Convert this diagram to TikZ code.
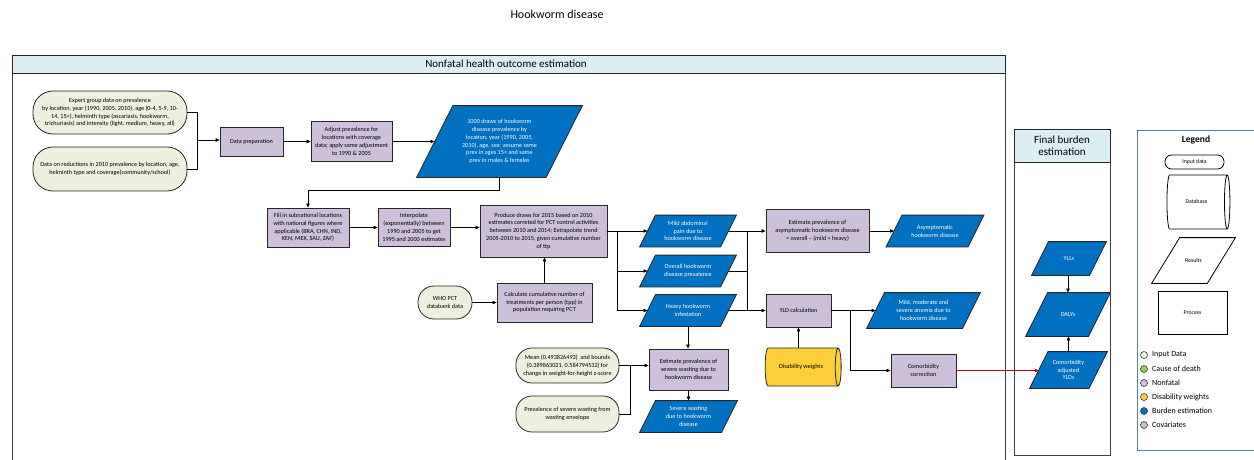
\documentclass[tikz,border=0pt]{standalone}
\usepackage{fontspec}
\setmainfont{Carlito}
\usetikzlibrary{shapes.geometric,shapes.misc,arrows.meta,calc}

\definecolor{inputfill}{HTML}{EBF1DE}
\definecolor{procfill}{HTML}{CCC0DA}
\definecolor{resfill}{HTML}{0070C0}
\definecolor{dwfill}{HTML}{FFCF3A}
\definecolor{headfill}{HTML}{DAEEF3}
\definecolor{legborder}{HTML}{5B7FA6}
\definecolor{codgreen}{HTML}{92D050}
\definecolor{covgray}{HTML}{BFBFBF}
\definecolor{linkred}{HTML}{C00000}

\pgfdeclarelayer{background}
\pgfsetlayers{background,main}

% Parallelogram node: a rectangle as wide as the shape at mid-height carries the
% name and text; the slanted outline is drawn behind it.
% #1 node style, #2 outline style, #3 half-slant per unit height, #4 name,
% #5 centre, #6 total width, #7 height, #8 text
\newcommand\paranode[8]{%
  \node[#1, minimum width={(#6)-2*#3*(#7)}, minimum height=#7] (#4) at (#5) {#8};
  \begin{pgfonlayer}{background}
    \draw[#2] ([xshift={-#3*(#7)}]#4.south west) -- ([xshift={#3*(#7)}]#4.north west)
      -- ([xshift={#3*(#7)}]#4.north east) -- ([xshift={-#3*(#7)}]#4.south east) -- cycle;
  \end{pgfonlayer}}
\newcommand\resnode[5]{\paranode{resultbox}{resshape}{0.255}{#1}{#2}{#3}{#4}{#5}}

\begin{document}
\begin{tikzpicture}[x=1pt,y=-1pt,
  base/.style={font=\fontsize{6.2}{7.8}\selectfont, align=center, inner sep=1pt,
    line width=0.8pt, draw=black!85},
  inputbox/.style={base, rectangle, rounded corners=#1, fill=inputfill},
  procbox/.style={base, rectangle, fill=procfill},
  resultbox/.style={base, rectangle, draw=none, text=white},
  resshape/.style={line width=0.8pt, draw=black!85, fill=resfill},
  dbbox/.style={base, cylinder, aspect=0.8, fill=dwfill},
  arr/.style={-{Triangle[length=4pt,width=3.4pt]}, line width=0.7pt},
  plain/.style={line width=0.7pt},
  redarr/.style={arr, draw=linkred},
  lanehead/.style={font=\fontsize{11}{12.5}\selectfont, align=center},
  legtext/.style={font=\fontsize{8}{9}\selectfont, anchor=west, inner sep=0pt},
  legdot/.style={circle, draw=black!75, line width=0.6pt, minimum size=7pt, inner sep=0pt},
  legshape/.style={draw=black, line width=0.8pt, fill=white, font=\fontsize{5.8}{7}\selectfont, inner sep=1pt},
  legpara/.style={legshape, rectangle, draw=none, fill=none},
  legparashape/.style={draw=black, line width=0.8pt, fill=white}
]
\useasboundingbox (0,0) rectangle (1254,459);

% title
\node[font=\fontsize{12}{14}\selectfont] (title) at (557,14) {Hookworm disease};

% ---------- nonfatal swimlane ----------
\draw[line width=0.8pt, draw=black!75] (12,55) rectangle (1005,470);
\draw[line width=0.8pt, draw=black!85, fill=headfill] (12,55) rectangle (1005,73);
\node[lanehead] (nfhead) at (506,64) {Nonfatal health outcome estimation};

% inputs
\node[inputbox=20pt, minimum width=154pt, minimum height=43pt] (expert) at (110,112.5)
  {Expert group data on prevalence\\by location, year (1990, 2005, 2010), age (0-4, 5-9, 10-\\14, 15+), helminth type (ascariasis, hookworm,\\trichuriasis) and intensity (light, medium, heavy, all)};
\node[inputbox=20pt, minimum width=154pt, minimum height=44pt] (reduce) at (110,169)
  {Data on reductions in 2010 prevalence by location, age,\\helminth type and coverage(community/school)};

% first processing row
\node[procbox, minimum width=63pt, minimum height=29pt] (prep) at (251.5,141.5) {Data preparation};
\node[procbox, minimum width=81pt, minimum height=40pt] (adjust) at (351.5,141.5)
  {Adjust prevalence for\\locations with coverage\\data; apply same adjustment\\to 1990 \& 2005};
\resnode{draws}{499.5,141.5}{165}{71}
  {1000 draws of hookworm\\disease prevalence by\\location, year (1990, 2005,\\2010), age, sex: assume same\\prev in ages 15+ and same\\prev in males \& females}

% second processing row
\node[procbox, minimum width=82pt, minimum height=39pt] (fill) at (308,227.5)
  {Fill in subnational locations\\with national figures where\\applicable (BRA, CHN, IND,\\KEN, MEX, SAU, ZAF)};
\node[procbox, minimum width=72pt, minimum height=38pt] (interp) at (414,227.5)
  {Interpolate\\(exponentially) between\\1990 and 2005 to get\\1995 and 2000 estimates};
\node[procbox, minimum width=127pt, minimum height=52pt] (produce) at (543.5,231)
  {Produce draws for 2015 based on 2010\\estimates correted for PCT control activities\\between 2010 and 2014; Extrapolate trend\\2005-2010 to 2015, given cumulative number\\of ttp};
\node[inputbox=16pt, minimum width=54pt, minimum height=33pt] (who) at (445,302.5) {WHO PCT\\databank data};
\node[procbox, minimum width=95pt, minimum height=39pt] (calc) at (544.5,302.5)
  {Calculate cumulative number of\\treatments per person (tpp) in\\population requiring PCT};

% prevalence results
\resnode{mild}{688,231}{96}{31}{Mild abdominal\\pain due to\\hookworm disease}
\resnode{overall}{688,271}{96}{31}{Overall hookworm\\disease prevalence}
\resnode{heavy}{688,310.5}{96}{31}{Heavy hookworm\\infestation}

\node[procbox, minimum width=103pt, minimum height=43pt] (asymest) at (817.5,231)
  {Estimate prevalence of\\asymptomatic hookworm disease\\= overall – (mild + heavy)};
\resnode{asym}{935,231}{97}{31}{Asymptomatic\\hookworm disease}

\node[procbox, minimum width=65pt, minimum height=33pt] (yld) at (798.5,310.5) {YLD calculation};
\resnode{anemia}{923.5,310.5}{113}{35}{Mild, moderate and\\severe anemia due to\\hookworm disease}
\node[dbbox, minimum height=76pt, minimum width=38pt] (dw) at (801,367) {Disability weights};
\node[procbox, minimum width=65pt, minimum height=33pt] (comorb) at (923.5,370.5) {Comorbidity\\correction};

% wasting branch
\node[inputbox=16pt, minimum width=103pt, minimum height=35pt] (mean) at (567.5,365.5)
  {Mean (0.493826493)~ and bounds\\(0.389863021, 0.584794532) for\\change in weight-for-height z-score};
\node[inputbox=16pt, minimum width=103pt, minimum height=36pt] (wasting) at (567.5,414)
  {Prevalence of severe wasting from\\wasting envelope};
\node[procbox, minimum width=79pt, minimum height=41pt] (sevest) at (688.5,369.5)
  {Estimate prevalence of\\severe wasting due to\\hookworm disease};
\resnode{sevres}{688.5,416.5}{97}{31}{Severe wasting\\due to hookworm\\disease}

% ---------- final burden swimlane ----------
\draw[line width=0.8pt, draw=black!75] (1014,129) rectangle (1110,455);
\draw[line width=0.8pt, draw=black!85, fill=headfill] (1014,129) rectangle (1110,162);
\node[lanehead] (fbhead) at (1062,145.5) {Final burden\\estimation};

\resnode{yll}{1069,258.5}{74}{33}{YLLs}
\resnode{daly}{1068,314.5}{84}{43}{DALYs}
\resnode{adjyld}{1068.5,370}{77}{36}{Comorbidity\\adjusted\\YLDs}

% ---------- connectors ----------
\coordinate (jin) at (197,140);
\draw[plain] (expert.east) -| (jin);
\draw[plain] (reduce.east) -| (jin);
\draw[arr] (jin) -- (jin -| prep.west);
\draw[arr] (prep.east) -- (adjust.west);
\draw[arr] (adjust.east) -- (draws);
\draw[arr] (draws.south) -- ++(0,13) -| (fill.north);
\draw[arr] (fill.east) -- (interp.west);
\draw[arr] (interp.east) -- (interp.east -| produce.west);
\draw[arr] (who.east) -- (calc.west);
\draw[arr] (calc.north) -- (calc.north |- produce.south);

\coordinate (jprod) at (617,231);
\draw[plain] (produce.east) -- (jprod);
\draw[arr] (jprod) -- (mild);
\draw[plain] (jprod) -- (jprod |- heavy);
\draw[arr] (jprod |- overall) -- (overall);
\draw[arr] (jprod |- heavy) -- (heavy);

\coordinate (jres) at (747,231);
\draw[plain] (mild) -- (jres);
\draw[plain] (overall) -- (overall -| jres);
\draw[plain] (heavy) -- (heavy -| jres);
\draw[plain] (jres) -- (jres |- heavy);
\draw[arr] (jres) -- (asymest.west);
\draw[arr] (heavy -| jres) -- (yld.west);
\draw[arr] (asymest.east) -- (asym);

\coordinate (jyld) at (850,310.5);
\draw[arr] (yld.east) -- (anemia);
\draw[arr] (jyld) |- (comorb.west);
\draw[arr] (yld.south |- dw.north) -- (yld.south);

\coordinate (jwaste) at (630,365.5);
\draw[arr] (mean.east) -- (mean.east -| sevest.west);
\draw[plain] (wasting.east) -| (jwaste);
\draw[arr] (heavy.south) -- (heavy.south |- sevest.north);
\draw[arr] (sevest.south) -- (sevest.south |- sevres.north);

\draw[redarr] (comorb.east) -- (comorb.east -| adjyld.west);
\draw[arr] (daly.north |- yll.south) -- (daly.north);
\draw[arr] (adjyld.north) -- (adjyld.north |- daly.south);

% ---------- legend ----------
\draw[line width=0.7pt, draw=legborder] (1137,130) rectangle (1262,450);
\node[font=\bfseries\fontsize{9.5}{11}\selectfont] (legtitle) at (1196,139.5) {Legend};
\node[legshape, rectangle, rounded corners=6.5pt, minimum width=59pt, minimum height=14pt] (lin) at (1194.5,162) {Input data};
\node[legshape, cylinder, aspect=0.9, minimum height=63pt, minimum width=54pt] (ldb) at (1196.5,202) {Database};
\paranode{legpara}{legparashape}{0.312}{lres}{1193.5,260.5}{83}{45}{Results}
\node[legshape, rectangle, minimum width=69pt, minimum height=43pt] (lproc) at (1192.5,312.5) {Process};

\node[legdot, fill=inputfill] (d1) at (1144,355) {};
\node[legdot, fill=codgreen] (d2) at (1144,369) {};
\node[legdot, fill=procfill] (d3) at (1144,383) {};
\node[legdot, fill=dwfill] (d4) at (1144,397) {};
\node[legdot, fill=resfill] (d5) at (1144,411) {};
\node[legdot, fill=covgray] (d6) at (1144,425) {};
\node[legtext] (t1) at (1152,355) {Input Data};
\node[legtext] (t2) at (1152,369) {Cause of death};
\node[legtext] (t3) at (1152,383) {Nonfatal};
\node[legtext] (t4) at (1152,397) {Disability weights};
\node[legtext] (t5) at (1152,411) {Burden estimation};
\node[legtext] (t6) at (1152,425) {Covariates};
\end{tikzpicture}
\end{document}
